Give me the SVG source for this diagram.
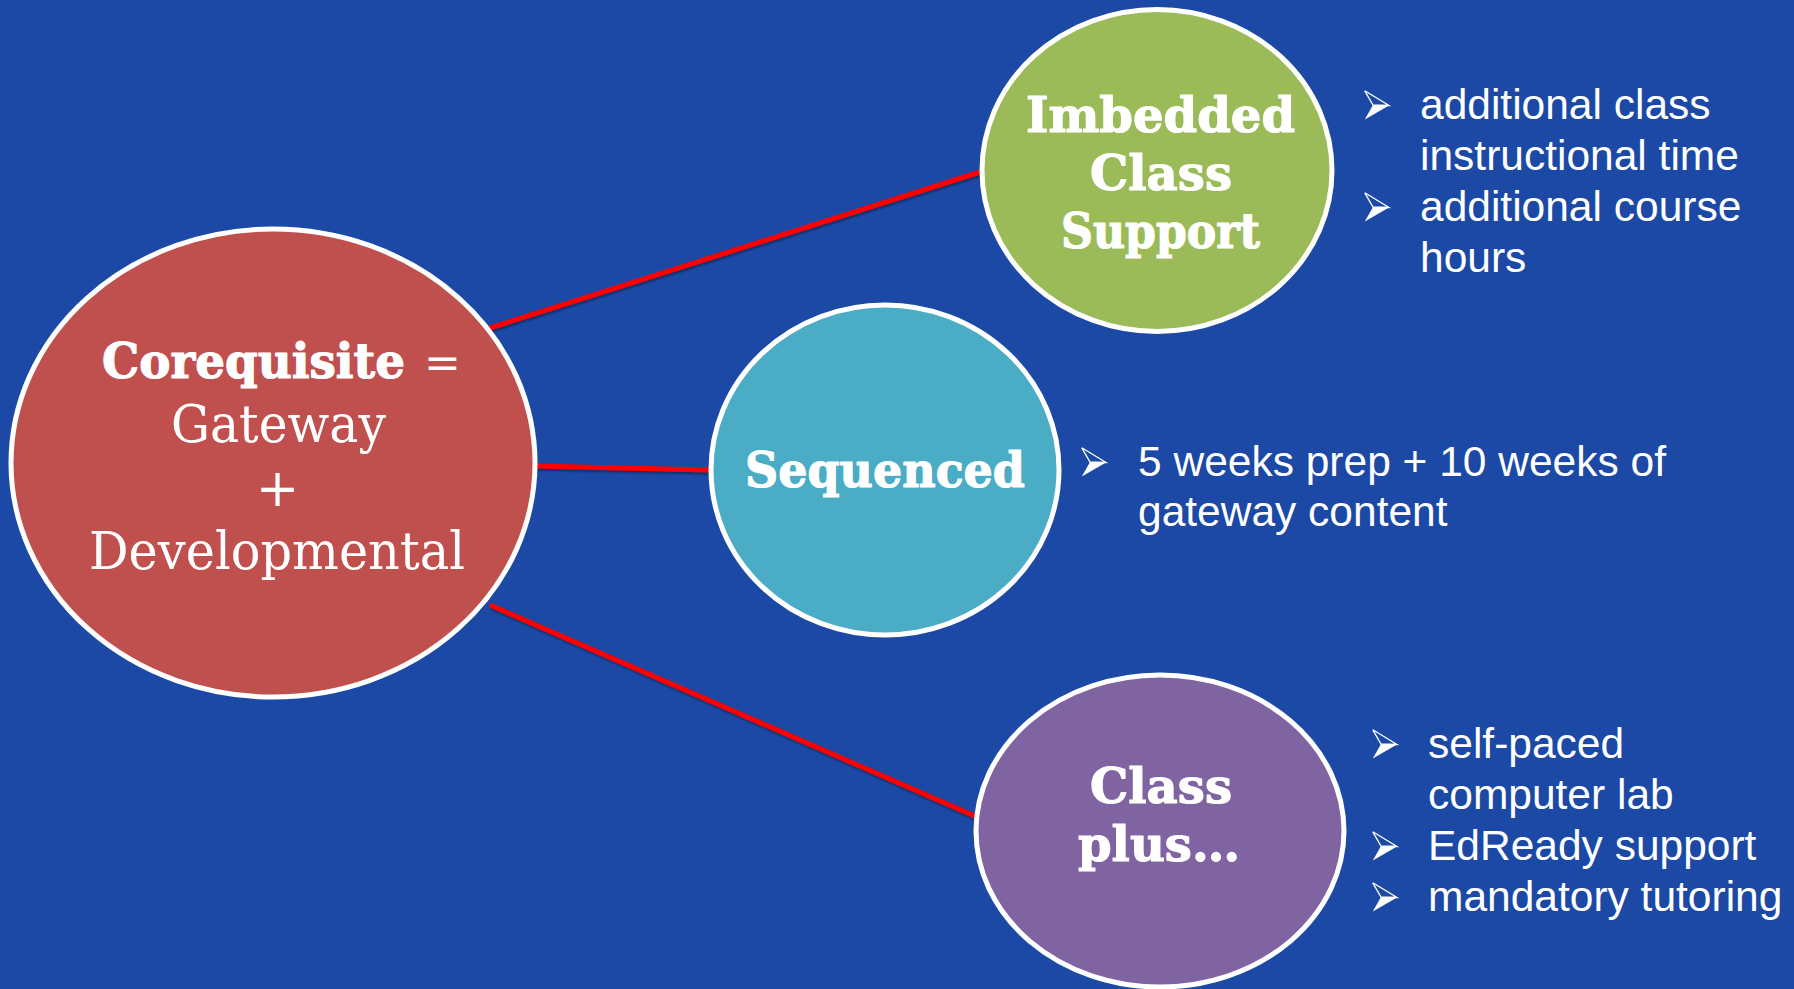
<svg xmlns="http://www.w3.org/2000/svg" xmlns:xlink="http://www.w3.org/1999/xlink" width="1794" height="989" viewBox="0 0 1794 989">
  <defs>
    <style>
      .shape { stroke: #ffffff; stroke-width: 5; }
      .label { font-family: "DejaVu Serif", "Liberation Serif", serif; fill: #ffffff; }
      .b { font-weight: bold; stroke: #ffffff; stroke-width: 1.2; stroke-linejoin: round; }
      .item { font-family: "Liberation Sans", Arial, sans-serif; font-size: 42.5px; fill: #ffffff; }
      .link { stroke: #ff0000; stroke-width: 5; fill: none; stroke-linecap: butt; }
    </style>
    <filter id="lineShadow" x="-5%" y="-20%" width="110%" height="140%">
      <feDropShadow dx="1" dy="2" stdDeviation="1.2" flood-color="#000000" flood-opacity="0.4"/>
    </filter>
    <!-- 3D arrowhead bullet: outlined upper facet, solid lower facet -->
    <g id="arrowhead">
      <path d="M0.8,0.8 L25,15.5 L9,15 Z" fill="none" stroke="#ffffff" stroke-width="1.3" stroke-linejoin="miter"/>
      <path d="M9,15 L25,15.5 L0.8,29.5 Z" fill="#ffffff"/>
    </g>
  </defs>

  <!-- background -->
  <rect x="0" y="0" width="1794" height="989" fill="#1B49A5"/>

  <!-- connectors -->
  <g id="connectors" filter="url(#lineShadow)">
    <line class="link" x1="490" y1="328" x2="980" y2="172"/>
    <line class="link" x1="535" y1="466" x2="711" y2="470"/>
    <line class="link" x1="490" y1="605" x2="977" y2="817"/>
  </g>

  <!-- central node -->
  <g id="node-corequisite">
    <ellipse class="shape" cx="273" cy="463" rx="262" ry="234" fill="#C0504D"/>
    <text class="label" y="378"><tspan class="b" x="102" font-size="49" textLength="303" lengthAdjust="spacingAndGlyphs">Corequisite</tspan><tspan x="424" font-size="44">=</tspan></text>
    <text class="label" x="171" y="442" font-size="52" textLength="215" lengthAdjust="spacingAndGlyphs">Gateway</text>
    <text class="label" x="277.5" y="506" font-size="52" text-anchor="middle">+</text>
    <text class="label" x="89" y="569" font-size="52" textLength="376" lengthAdjust="spacingAndGlyphs">Developmental</text>
  </g>

  <!-- branch: imbedded class support -->
  <g id="node-imbedded">
    <ellipse class="shape" cx="1157" cy="170.5" rx="175" ry="161" fill="#9BBB59"/>
    <text class="label b" x="1026" y="132" font-size="48" textLength="269" lengthAdjust="spacingAndGlyphs">Imbedded</text>
    <text class="label b" x="1090" y="190" font-size="48" textLength="142" lengthAdjust="spacingAndGlyphs">Class</text>
    <text class="label b" x="1061" y="248" font-size="48" textLength="199" lengthAdjust="spacingAndGlyphs">Support</text>
  </g>
  <g id="notes-imbedded">
    <use xlink:href="#arrowhead" x="1364" y="90"/>
    <use xlink:href="#arrowhead" x="1364" y="192"/>
    <text class="item" x="1420" y="119">additional class</text>
    <text class="item" x="1420" y="170">instructional time</text>
    <text class="item" x="1420" y="221">additional course</text>
    <text class="item" x="1420" y="272">hours</text>
  </g>

  <!-- branch: sequenced -->
  <g id="node-sequenced">
    <ellipse class="shape" cx="885" cy="470" rx="174" ry="165" fill="#4BACC6"/>
    <text class="label b" x="745" y="487" font-size="48" textLength="280" lengthAdjust="spacingAndGlyphs">Sequenced</text>
  </g>
  <g id="notes-sequenced">
    <use xlink:href="#arrowhead" x="1081" y="447"/>
    <text class="item" x="1138" y="476">5 weeks prep + 10 weeks of</text>
    <text class="item" x="1138" y="526">gateway content</text>
  </g>

  <!-- branch: class plus -->
  <g id="node-classplus">
    <ellipse class="shape" cx="1160" cy="831" rx="184" ry="156" fill="#8064A2"/>
    <text class="label b" x="1090" y="803" font-size="48" textLength="142" lengthAdjust="spacingAndGlyphs">Class</text>
    <text class="label b" x="1078" y="861" font-size="48" textLength="162" lengthAdjust="spacingAndGlyphs">plus…</text>
  </g>
  <g id="notes-classplus">
    <use xlink:href="#arrowhead" x="1372" y="729"/>
    <use xlink:href="#arrowhead" x="1372" y="831"/>
    <use xlink:href="#arrowhead" x="1372" y="882"/>
    <text class="item" x="1428" y="758">self-paced</text>
    <text class="item" x="1428" y="809">computer lab</text>
    <text class="item" x="1428" y="860">EdReady support</text>
    <text class="item" x="1428" y="911">mandatory tutoring</text>
  </g>
</svg>
